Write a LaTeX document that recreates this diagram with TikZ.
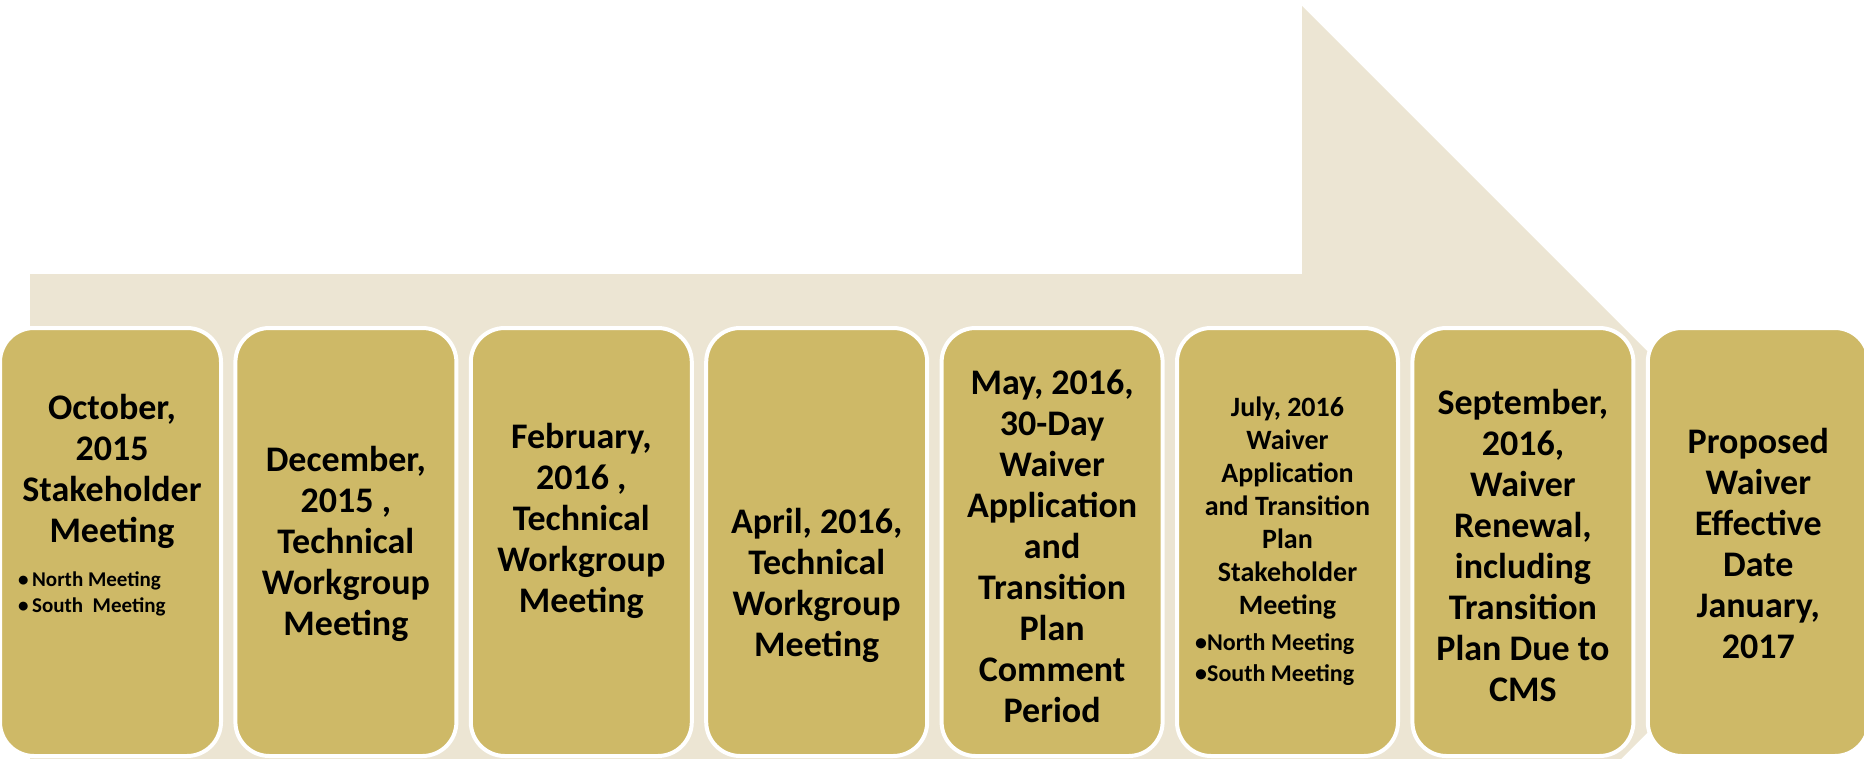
\documentclass[tikz,border=0pt]{standalone}
\usepackage{fontspec}
\setmainfont{Carlito}
\usepackage{xcolor}
\usetikzlibrary{positioning}
\definecolor{gold}{HTML}{CEB967}
\definecolor{sand}{HTML}{ECE5D3}
\tikzset{
  stage/.style={draw=white, line width=4pt, fill=gold, rounded corners=34pt,
    minimum width=221pt, minimum height=428pt, inner sep=0pt},
  bigtext/.style={align=center, inner sep=0pt, font=\fontsize{36}{41}\selectfont\bfseries},
  midtext/.style={align=center, inner sep=0pt, font=\fontsize{28}{33}\selectfont\bfseries},
  bullets/.style={align=left, anchor=west, inner sep=0pt}
}

\begin{document}
\begin{tikzpicture}[x=1pt, y=-1pt]
  \useasboundingbox (0,0) rectangle (1864,758);
  \clip (0,0) rectangle (1864,758);
  % Big arrow behind the stages
  \fill[sand] (30,274) -- (1302,274) -- (1302,6) -- (1838,542)
    -- (1302,1078) -- (1302,810) -- (30,810) -- cycle;
  % Stages
  \node[stage] (s1) at (110.5,542) {};
  \node[stage] (s2) at (345.9,542) {};
  \node[stage] (s3) at (581.3,542) {};
  \node[stage] (s4) at (816.7,542) {};
  \node[stage] (s5) at (1052.1,542) {};
  \node[stage] (s6) at (1287.5,542) {};
  \node[stage] (s7) at (1522.9,542) {};
  \node[stage] (s8) at (1758.3,542) {};
  % Texts
  \node[bigtext] (t1) at (112,471) {October,\\2015\\Stakeholder\\Meeting};
  \node[bullets, font=\fontsize{21}{26}\selectfont\bfseries] (b1) at (18,594)
    {•\,North Meeting\\•\,South\ \ Meeting};
  \node[bigtext] (t2) at (345.9,544) {December,\\2015 ,\\Technical\\Workgroup\\Meeting};
  \node[bigtext] (t3) at (581.3,521) {February,\\2016 ,\\Technical\\Workgroup\\Meeting};
  \node[bigtext] (t4) at (816.7,585) {April, 2016,\\Technical\\Workgroup\\Meeting};
  \node[bigtext] (t5) at (1052.1,546) {May, 2016,\\30-Day\\Waiver\\Application\\and\\Transition\\Plan\\Comment\\Period};
  \node[midtext] (t6) at (1287.5,508) {July, 2016\\Waiver\\Application\\and Transition\\Plan\\Stakeholder\\Meeting};
  \node[bullets, font=\fontsize{24}{31}\selectfont\bfseries] (b6) at (1195,660)
    {•North Meeting\\•South Meeting};
  \node[bigtext] (t7) at (1522.9,545) {September,\\2016,\\Waiver\\Renewal,\\including\\Transition\\Plan Due to\\CMS};
  \node[bigtext] (t8) at (1758.3,543) {Proposed\\Waiver\\Effective\\Date\\January,\\2017};
\end{tikzpicture}
\end{document}
